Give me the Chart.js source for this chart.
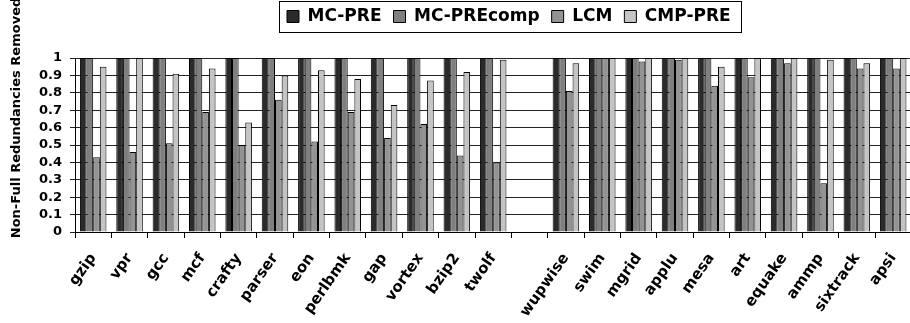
<!DOCTYPE html>
<html><head><meta charset="utf-8">
<script src="https://cdn.jsdelivr.net/npm/chart.js@4.4.0/dist/chart.umd.min.js"></script>
<style>
html,body{margin:0;padding:0;background:#fff;overflow:hidden}
#wrap{width:910px;height:323px;overflow:hidden;position:relative;background:#fff}
#c{position:absolute;left:0;top:0}
</style></head><body>
<div id="wrap"><canvas id="c" width="920" height="323"></canvas></div>
<script>
const categories = ['gzip','vpr','gcc','mcf','crafty','parser','eon','perlbmk','gap','vortex','bzip2','twolf','','wupwise','swim','mgrid','applu','mesa','art','equake','ammp','sixtrack','apsi'];
const seriesNames = ['MC-PRE','MC-PREcomp','LCM','CMP-PRE'];
const mcPre     = [1,1,1,1,1,1,1,1,1,1,1,1,null,1,1,1,1,1,1,1,1,1,1];
const mcPreComp = [1,1,1,1,1,1,1,1,1,1,1,1,null,1,1,1,1,1,1,1,1,1,1];
const lcm       = [0.43,0.46,0.51,0.69,0.50,0.76,0.52,0.69,0.54,0.62,0.44,0.40,null,0.81,1,0.98,0.99,0.84,0.89,0.97,0.28,0.94,0.94];
const cmpPre    = [0.95,1,0.91,0.94,0.63,0.90,0.93,0.88,0.73,0.87,0.92,0.99,null,0.97,1,1,1,0.95,1,1,0.99,0.97,1];
const yTickLabels = ['0','0.1','0.2','0.3','0.4','0.5','0.6','0.7','0.8','0.9','1'];
const yTitle = 'Non-Full Redundancies Removed';

const colors = ['#2b2b2b','#7f7f7f','#939393','#c4c4c4'];
const FONT = 'DejaVu Sans';

const legendPlugin = {
  id: 'legendTweak',
  beforeLayout(chart) {
    const lg = chart.legend;
    if (lg && !lg._patched) {
      const orig = lg.fit;
      lg.fit = function() { orig.call(this); this.height = 58; };
      lg._patched = true;
    }
  },
  afterLayout(chart) {
    const lg = chart.legend;
    lg.left = 275;
    lg.top = -4;
  },
  afterDraw(chart) {
    const lg = chart.legend;
    const hb = lg.legendHitBoxes;
    if (!hb || !hb.length) return;
    const first = hb[0], last = hb[hb.length - 1];
    const ctx = chart.ctx;
    ctx.save();
    ctx.strokeStyle = '#000';
    ctx.lineWidth = 1;
    const l = Math.round(first.left - 8) + 0.5;
    const r = Math.round(last.left + last.width + 10) + 0.5;
    const t = 1.5;
    const b = 32.5;
    ctx.strokeRect(l, t, r - l, b - t);
    // y axis title
    ctx.fillStyle = '#000';
    ctx.font = 'bold 13px "' + FONT + '"';
    ctx.textAlign = 'center';
    ctx.textBaseline = 'middle';
    ctx.translate(17, 118);
    ctx.rotate(-Math.PI / 2);
    ctx.fillText(yTitle, 0, 0);
    ctx.restore();
  }
};

const data = {
  labels: categories,
  datasets: [mcPre, mcPreComp, lcm, cmpPre].map((d, i) => ({
    label: seriesNames[i],
    data: d,
    backgroundColor: colors[i],
    borderColor: '#000',
    borderWidth: 1,
    borderSkipped: 'bottom',
    categoryPercentage: 0.73,
    barPercentage: 1.0
  }))
};

new Chart(document.getElementById('c'), {
  type: 'bar',
  data,
  options: {
    responsive: false,
    animation: false,
    devicePixelRatio: 1,
    layout: { padding: { left: 0, right: 3, top: 0, bottom: 0 } },
    plugins: {
      legend: {
        position: 'top',
        align: 'start',
        labels: {
          boxWidth: 12,
          boxHeight: 12,
          padding: 12,
          color: '#000',
          font: { family: FONT, weight: 'bold', size: 17, lineHeight: 1 }
        }
      },
      tooltip: { enabled: false }
    },
    scales: {
      x: {
        offset: true,
        grid: { offset: true, drawOnChartArea: false, drawTicks: true, tickLength: 6, color: '#000', lineWidth: 1 },
        border: { color: '#000', width: 1 },
        ticks: {
          color: '#000',
          autoSkip: false,
          minRotation: 55,
          maxRotation: 55,
          padding: 12,
          font: { family: FONT, weight: 'bold', size: 15 }
        },
        afterFit(s) { s.height = 91; }
      },
      y: {
        min: 0,
        max: 1,
        grid: { color: '#222', lineWidth: 1, tickLength: 5 },
        border: { color: '#000', width: 1 },
        ticks: {
          stepSize: 0.1,
          maxTicksLimit: 11,
          autoSkip: false,
          color: '#000',
          padding: 8,
          font: { family: FONT, weight: 'bold', size: 13 },
          callback: (v) => yTickLabels[Math.round(v * 10)]
        },
        afterFit(s) { s.width = 75; }
      }
    }
  },
  plugins: [legendPlugin]
});
</script>
</body></html>
